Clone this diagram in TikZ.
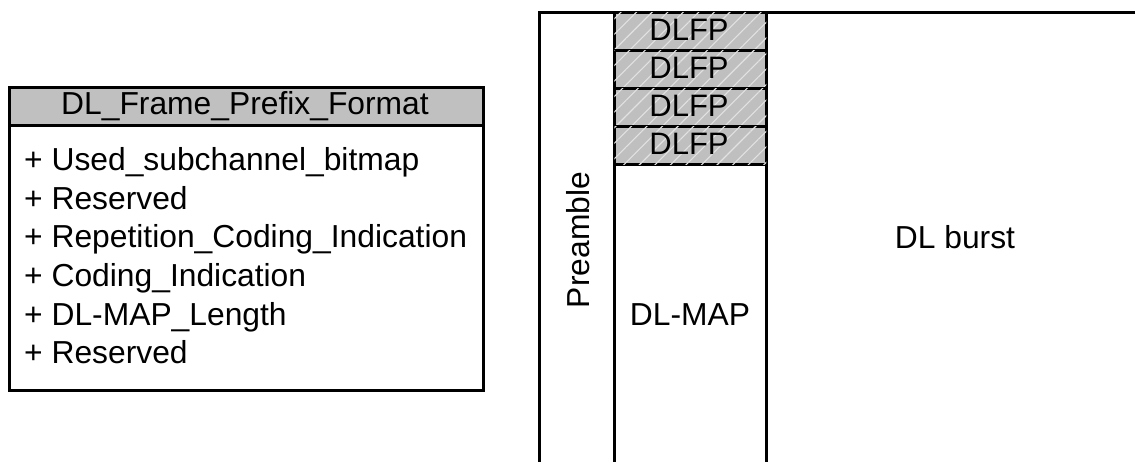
\documentclass[tikz,border=0pt]{standalone}
\usepackage{fontspec}
\setmainfont{Liberation Sans}
\usetikzlibrary{patterns.meta}
\definecolor{hdrgray}{HTML}{C0C0C0}
\definecolor{hatchgray}{HTML}{BFBFBF}
\definecolor{hatchline}{HTML}{E2E2E2}
\begin{document}
\begin{tikzpicture}[x=1pt,y=-1pt,
  frame/.style={draw=black,line width=2.6pt},
  cell/.style={frame,rectangle,inner sep=0pt,anchor=north west},
  big/.style={font=\fontsize{31.8}{31.8}\selectfont},
  lbl/.style={big,inner sep=0pt,anchor=base},
  dlfpcell/.style={cell,fill=hatchgray,postaction={pattern={Lines[angle=45,distance=11pt,line width=1.1pt]},pattern color=hatchline},
    minimum width=152pt,minimum height=38pt},
  dlfptxt/.style={inner sep=0pt,anchor=base,font=\fontsize{31}{31}\selectfont},
  item/.style={big,anchor=base west,inner sep=0pt}]
\clip (0,0) rectangle (1135,462);
\fill[white] (0,0) rectangle (1135,462);
% class box
\node[cell,minimum width=474pt,minimum height=303pt] (cls) at (8,86) {};
\node[cell,fill=hdrgray,minimum width=474pt,minimum height=38pt] (hdr) at (8,86) {};
\node[lbl] (hdrtxt) at (245,115) {DL\_Frame\_Prefix\_Format};
\node[item] (i1) at (24,171) {+ Used\_subchannel\_bitmap};
\node[item] (i2) at (24,209.5) {+ Reserved};
\node[item] (i3) at (24,248) {+ Repetition\_Coding\_Indication};
\node[item] (i4) at (24,286.5) {+ Coding\_Indication};
\node[item] (i5) at (24,325) {+ DL-MAP\_Length};
\node[item] (i6) at (24,363.5) {+ Reserved};
% frame structure
\node[cell,minimum width=75pt,minimum height=480pt] (pre) at (538,11) {};
\node[cell,minimum width=400pt,minimum height=480pt] (burst) at (765,11) {};
\node[cell,minimum width=152pt,minimum height=330pt] (map) at (613,163) {};
\node[dlfpcell] (f1) at (613,11) {};
\node[dlfpcell] (f2) at (613,49) {};
\node[dlfpcell] (f3) at (613,87) {};
\node[dlfpcell] (f4) at (613,125) {};
\node[dlfptxt] (t1) at (689,41) {DLFP};
\node[dlfptxt] (t2) at (689,79) {DLFP};
\node[dlfptxt] (t3) at (689,117) {DLFP};
\node[dlfptxt] (t4) at (689,155) {DLFP};
\node[rotate=90,inner sep=0pt,big] (pretxt) at (578,240) {Preamble};
\node[lbl] (maptxt) at (690,326) {DL-MAP};
\node[lbl] (bursttxt) at (955,249) {DL burst};
\end{tikzpicture}
\end{document}
